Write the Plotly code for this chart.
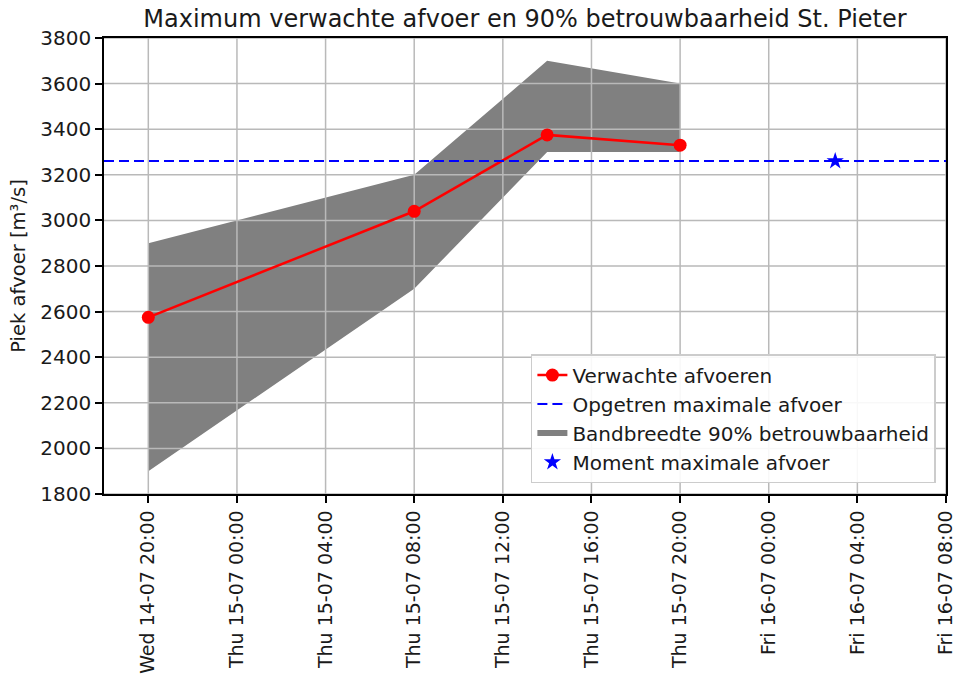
import plotly.graph_objects as go
from datetime import datetime, timedelta

# Forecast peak discharge at St. Pieter (m3/s)
forecast_times = ["2021-07-14 20:00", "2021-07-15 08:00", "2021-07-15 14:00", "2021-07-15 20:00"]
forecast_values = [2575, 3040, 3375, 3330]

# 90% confidence band
band_upper = [2900, 3200, 3700, 3600]
band_lower = [1900, 2700, 3300, 3300]

# Observed maximum discharge and the moment it occurred
max_discharge = 3260
max_time = "2021-07-16 03:00"

x_start = "2021-07-14 18:00"
x_end = "2021-07-16 08:00"

tick_start = datetime(2021, 7, 14, 20, 0)
tick_times = [tick_start + timedelta(hours=4 * i) for i in range(10)]
tick_labels = [t.strftime("%a %d-%m %H:%M") for t in tick_times]
y_ticks = list(range(1800, 3801, 200))

FONT = "DejaVu Sans"
TEXT = "#1a1a1a"
GRID = "#b9b9b9"

fig = go.Figure()

# shaded band (polygon: upper edge forward, lower edge backward)
fig.add_trace(go.Scatter(
    x=forecast_times + forecast_times[::-1],
    y=band_upper + band_lower[::-1],
    fill="toself", fillcolor="#808080", mode="none",
    line=dict(width=0), name="Bandbreedte 90% betrouwbaarheid",
    legendrank=3,
))

# grid lines drawn over the band but under the data lines
gx, gy = [], []
for t in tick_times:
    gx += [t, t, None]
    gy += [y_ticks[0], y_ticks[-1], None]
for v in y_ticks:
    gx += [x_start, x_end, None]
    gy += [v, v, None]
fig.add_trace(go.Scatter(
    x=gx, y=gy, mode="lines", line=dict(color=GRID, width=1.5),
    showlegend=False, hoverinfo="skip",
))

fig.add_trace(go.Scatter(
    x=forecast_times, y=forecast_values, mode="lines+markers",
    line=dict(color="red", width=2.5), marker=dict(color="red", size=13),
    name="Verwachte afvoeren", legendrank=1,
))

fig.add_trace(go.Scatter(
    x=[x_start, x_end], y=[max_discharge, max_discharge], mode="lines",
    line=dict(color="blue", width=2, dash="10px,5px"),
    name="Opgetren maximale afvoer", legendrank=2,
))

fig.add_trace(go.Scatter(
    x=[max_time], y=[max_discharge], mode="markers",
    marker=dict(symbol="star", color="blue", size=13),
    name="Moment maximale afvoer", legendrank=4,
))

fig.update_layout(
    width=957, height=679,
    margin=dict(l=104, r=11, t=38, b=185, autoexpand=False),
    paper_bgcolor="white", plot_bgcolor="white",
    font=dict(family=FONT, size=20, color=TEXT),
    title=dict(
        text="Maximum verwachte afvoer en 90% betrouwbaarheid St. Pieter",
        x=(104 + 946) / 2 / 957, xanchor="center",
        y=1 - 19 / 679, yanchor="middle",
        font=dict(family=FONT, size=24, color=TEXT),
    ),
    showlegend=True,
    legend=dict(
        x=0.988, xanchor="right", y=0.024, yanchor="bottom",
        bgcolor="rgba(255,255,255,0.9)", bordercolor="#cccccc", borderwidth=1.5,
        font=dict(family=FONT, size=20, color=TEXT),
        traceorder="normal",
    ),
)

fig.update_xaxes(
    type="date", range=[x_start, x_end], automargin=False,
    tickmode="array", tickvals=tick_times, ticktext=tick_labels,
    tickangle=-90, ticklabeloverflow="allow",
    showgrid=False, zeroline=False,
    showline=True, linecolor="black", linewidth=1.5, mirror=True,
    ticks="outside", ticklen=7, tickwidth=1.5, tickcolor="black",
    tickfont=dict(family=FONT, size=19, color=TEXT),
)
fig.update_yaxes(
    range=[1800, 3800], tickmode="array", tickvals=y_ticks, automargin=False,
    showgrid=False, zeroline=False,
    showline=True, linecolor="black", linewidth=1.5, mirror=True,
    ticks="outside", ticklen=7, tickwidth=1.5, tickcolor="black",
    tickfont=dict(family=FONT, size=20, color=TEXT),
    title=dict(text="Piek afvoer [m³/s]", standoff=10,
               font=dict(family=FONT, size=19.5, color=TEXT)),
)

fig.write_html("out.html")
